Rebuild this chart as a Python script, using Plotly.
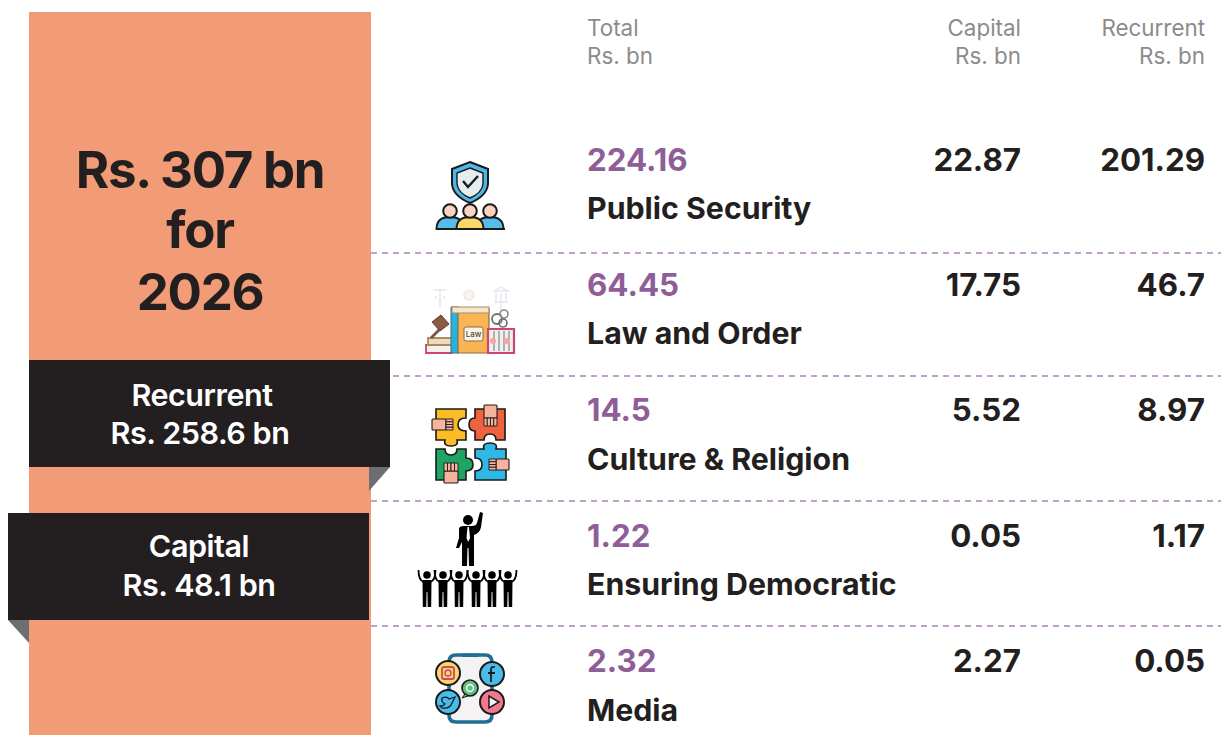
import json
import plotly.graph_objects as go

# ---- data ----
categories = ["Public Security", "Law and Order", "Culture & Religion", "Ensuring Democratic", "Media"]
totals = ["224.16", "64.45", "14.5", "1.22", "2.32"]
capital = ["22.87", "17.75", "5.52", "0.05", "2.27"]
recurrent = ["201.29", "46.7", "8.97", "1.17", "0.05"]
headline = ["Rs. 307 bn", "for", "2026"]
ribbon_recurrent = ["Recurrent", "Rs. 258.6 bn"]
ribbon_capital = ["Capital", "Rs. 48.1 bn"]
header_total = ["Total", "Rs. bn"]
header_capital = ["Capital", "Rs. bn"]
header_recurrent = ["Recurrent", "Rs. bn"]
icon_label = ["Law"]

# ---- style ----
W, H = 1221, 735
FONT = "Inter"
DARK, PURPLE, GREY, ORANGE = "#231f20", "#8f5e99", "#8c8c8c", "#f19c76"
FOLD, DASH = "#6d6e71", "#a983b5"
INK = "#1a1a1a"
NONE = "rgba(0,0,0,0)"
LAYER = "below"

shapes = []
def path(d, fill=NONE, line=None, lw=0):
    shapes.append(dict(type="path", path=d, fillcolor=fill, layer=LAYER,
                       line=dict(color=line or NONE, width=lw)))
def rect(x0, y0, x1, y1, fill, line=None, lw=0, r=0):
    if r:
        path(f"M{x0+r},{y0}L{x1-r},{y0}Q{x1},{y0} {x1},{y0+r}L{x1},{y1-r}Q{x1},{y1} {x1-r},{y1}"
             f"L{x0+r},{y1}Q{x0},{y1} {x0},{y1-r}L{x0},{y0+r}Q{x0},{y0} {x0+r},{y0}Z", fill, line, lw)
        return
    shapes.append(dict(type="rect", x0=x0, y0=y0, x1=x1, y1=y1, fillcolor=fill, layer=LAYER,
                       line=dict(color=line or fill, width=lw)))
def circ(cx, cy, r, fill, line=INK, lw=1.5):
    shapes.append(dict(type="circle", x0=cx-r, y0=cy-r, x1=cx+r, y1=cy+r, fillcolor=fill, layer=LAYER,
                       line=dict(color=line, width=lw)))
def seg(x0, y0, x1, y1, color, lw):
    shapes.append(dict(type="line", x0=x0, x1=x1, y0=y0, y1=y1, layer=LAYER, line=dict(color=color, width=lw)))

# row separators (drawn first so the ribbon covers them)
for y in [253, 376, 501, 626]:
    shapes.append(dict(type="line", x0=371, x1=W, y0=y, y1=y, layer=LAYER,
                       line=dict(color=DASH, width=1.5, dash="6px,5px")))

# panel and ribbons
rect(29, 12, 371, 735, ORANGE)
rect(29, 360, 390, 467, DARK)
path("M369,467L390,467L369,491Z", FOLD)
rect(8, 513, 369, 620, DARK)
path("M8,620L29,620L29,643Z", FOLD)

# --- icon: public security ---
path("M470,162L488,169L488,184Q487,196 470,203Q453,196 452,184L452,169Z", "#4db8e8", INK, 2)
path("M470,168L483,173L483,184Q482,193 470,198Q458,193 457,184L457,173Z", "#e6edef", INK, 1.4)
path("M463,181L468,187L478,176", NONE, INK, 2.4)
for cx, col in [(450, "#56bdea"), (490, "#56bdea"), (470, "#fbd768")]:
    path(f"M{cx-13.5},229Q{cx-13.5},217 {cx},217Q{cx+13.5},217 {cx+13.5},229Z", col, INK, 1.8)
    circ(cx, 211, 6.8, "#fbd3bf", INK, 2)
seg(436, 229, 505, 229, INK, 2)

# --- icon: law and order ---
FAINT = "#e6e8ee"
path("M434,290L446,290M440,290L440,307M436,296L436,299M444,296L444,299", NONE, FAINT, 1.5)
circ(469, 295, 5, "#f7f3ef", "#ebe3dd", 1.2)
path("M494,291L501,287L508,291ZM496,293L496,301M501,293L501,301M506,293L506,301M494,302L508,302M501,303L501,318",
     NONE, FAINT, 1.5)
rect(426, 345, 452, 353, "#f3f0ef", "#c9486f", 1.8)
rect(428, 338, 452, 345, "#e9dcc6", "#b08a58", 1.8)
path("M431,338L447,322", NONE, "#7c5440", 2.8)
path("M432,322L441,315L449,324L440,331Z", "#8a5a42", "#5f3f30", 1)
rect(451, 307, 459, 353, "#28b3dc", "#3c6f80", 1)
rect(458, 309, 489, 353, "#f9b454", "#8a6b4a", 1.2)
rect(452, 307, 489, 313, "#f3e6cf", "#b08a58", 1.2)
rect(464, 327, 483, 341, "#fbf5e8", "#8a6b4a", 1, r=2)
rect(488, 329, 514, 353, "#f1efee", "#c9486f", 2.2)
for x in [494, 499, 504, 509]:
    seg(x, 331, x, 351, "#8e8e8e", 1.3)
circ(493, 341, 3, "#f6a6a0", "#f6a6a0", 0)
circ(507, 341, 3, "#f6a6a0", "#f6a6a0", 0)
circ(497, 319, 5, NONE, "#6e6e6e", 1.8)
circ(504, 314, 4, NONE, "#8a8a8a", 1.6)
circ(503, 323, 4, NONE, "#6e6e6e", 1.6)

# --- icon: culture & religion (four interlocking pieces with hands) ---
path("M436,409L466,409L466,418Q458,418 458,424.5Q458,431 466,431L466,440L457,440Q459,446 451,446Q443,446 445,440L436,440Z",
     "#fbbc26", INK, 1.6)
path("M475,409L505,409L505,440L496,440Q496,434 490,434Q484,434 484,440L475,440L475,431Q469,431 469,424.5Q469,418 475,418Z",
     "#f0623f", INK, 1.6)
path("M436,449L445,449Q445,455 451,455Q457,455 457,449L466,449L466,458Q473,458 473,464.5Q473,471 466,471L466,480L436,480Z",
     "#1fa463", INK, 1.6)
path("M475,449L484,449Q482,443 490,443Q498,443 496,449L506,449L506,480L475,480L475,471Q482,471 482,464.5Q482,458 475,458Z",
     "#2fb8e6", INK, 1.6)
SKIN = "#f7b39c"
def hand_h(x0, x1, y0, y1, tip):   # horizontal hand: wrist at x0, knuckles at x1, fingers to tip
    rect(min(x0, x1), y0, max(x0, x1), y1, SKIN, INK, 1.1, r=1)
    for k in range(4):
        h = (y1 - y0) / 4
        rect(min(x1, tip), y0 + k*h, max(x1, tip), y0 + (k+1)*h, SKIN, INK, 0.9)
def hand_v(y0, y1, x0, x1, tip):   # vertical hand: wrist at y0, knuckles at y1, fingers to tip
    rect(x0, min(y0, y1), x1, max(y0, y1), SKIN, INK, 1.1, r=1)
    for k in range(4):
        w = (x1 - x0) / 4
        rect(x0 + k*w, min(y1, tip), x0 + (k+1)*w, max(y1, tip), SKIN, INK, 0.9)
hand_h(432, 446, 419, 430, 453)
hand_v(405, 418, 484, 497, 426)
hand_v(483, 471, 444, 458, 463)
hand_h(509, 496, 459, 470, 489)

# --- icon: ensuring democratic (black figures) ---
K = "#000000"
circ(468, 520, 5, K, K, 0)
path("M459,529Q459,526 464,526L472,526Q476,526 477,523L480,512L483,513L481,527Q480,533 474,535"
     "L474,566L469,566L468.5,548L467.5,548L467,566L462,566L462,542L459,548L456,548L459,538Z", K)
path("M467.5,527L469,527L470,538L468.2,542L466.5,538Z", "#ffffff")
for cx in [427, 443, 459, 476, 492, 508]:
    circ(cx, 575, 3.8, K, K, 0)
    path(f"M{cx-8.5},570Q{cx-8.5},580 {cx-3.5},582M{cx+8.5},570Q{cx+8.5},580 {cx+3.5},582", NONE, K, 1.8)
    path(f"M{cx-4.5},580L{cx+4.5},580L{cx+4.2},607L{cx+0.7},607L{cx+0.4},592L{cx-0.4},592L{cx-0.7},607L{cx-4.2},607Z", K)

# --- icon: media ---
rect(449, 655, 492, 722, "#f5f2f3", "#1e6f93", 3.6, r=7)
rect(462, 653.5, 479, 657, "#1e6f93")
circ(448, 673, 12, "#fbd768", INK, 2)
rect(442, 667, 454, 679, "#fbd768", "#c9486f", 1.8, r=2)
circ(448, 673, 3, NONE, "#c9486f", 1.5)
circ(492, 674, 12, "#49bdea", INK, 2)
path("M495,667Q491,666 491,670L491,682M488,673L495,673", NONE, INK, 1.8)
circ(448, 702, 12, "#49bdea", INK, 2)
circ(492, 702, 12, "#f0788f", INK, 2)
path("M489,696L489,708L499,702Z", "#f5f2f3", INK, 1.5)
path("M442,698Q447,696 449,699L455,697L452,703Q450,709 442,708L440,706Q444,706 445,704Q441,702 442,698Z", "#49bdea", INK, 1.3)
circ(470, 688, 8, "#5cc27e", INK, 1.6)
circ(470, 688, 3.4, NONE, "#f5f2f3", 1.6)
path("M465,694L462,698L468,696Z", "#5cc27e", INK, 1)

fig = go.Figure()
spacing = []

def add_text(xs, ys, texts, pos, size, color, weight, track=0):
    spacing.append(track)
    fig.add_trace(go.Scatter(x=xs, y=ys, text=texts, mode="text", textposition=pos, hoverinfo="skip",
                             showlegend=False, cliponaxis=False,
                             textfont=dict(family=FONT, size=size, color=color, weight=weight)))

n = len(categories)
value_y = [163 + 125.25 * i for i in range(n)]
name_y = [211 + 125.5 * i for i in range(n)]

add_text([200] * 3, [175, 235, 297], headline, "middle center", 51, DARK, 700, -1.3)
add_text([202, 200], [398, 436], ribbon_recurrent, "middle center", 30.5, "#ffffff", 600, -0.45)
add_text([199, 199], [549, 588], ribbon_capital, "middle center", 30.5, "#ffffff", 600, -0.45)
add_text([587, 587], [30, 58], header_total, "middle right", 22.4, GREY, 400)
add_text([1021, 1021], [30, 58], header_capital, "middle left", 22.4, GREY, 400)
add_text([1205, 1205], [30, 58], header_recurrent, "middle left", 22.4, GREY, 400)
add_text([587] * n, value_y, totals, "middle right", 31.3, PURPLE, 700)
add_text([587] * n, name_y, categories, "middle right", 30.3, DARK, 700)
add_text([1021] * n, value_y, capital, "middle left", 31.3, DARK, 700)
add_text([1205] * n, value_y, recurrent, "middle left", 31.3, DARK, 700)
add_text([473.5], [334.5], icon_label, "middle center", 8, "#4a4a4a", 500)

fig.update_layout(
    width=W, height=H, margin=dict(l=0, r=0, t=0, b=0),
    paper_bgcolor="#ffffff", plot_bgcolor="#ffffff",
    xaxis=dict(range=[0, W], visible=False, fixedrange=True),
    yaxis=dict(range=[H, 0], visible=False, fixedrange=True),
    shapes=shapes,
)
post = """
document.body.style.margin='0';document.documentElement.style.overflow='hidden';
(function(){var s=%s;function f(){document.querySelectorAll('.scatterlayer .trace').forEach(function(t,i){
if(s[i]){t.querySelectorAll('text').forEach(function(e){e.style.letterSpacing=s[i]+'px';});}});}
f();setTimeout(f,0);setTimeout(f,100);})();
""" % json.dumps(spacing)
fig.write_html("out.html", config=dict(displayModeBar=False), post_script=post)
